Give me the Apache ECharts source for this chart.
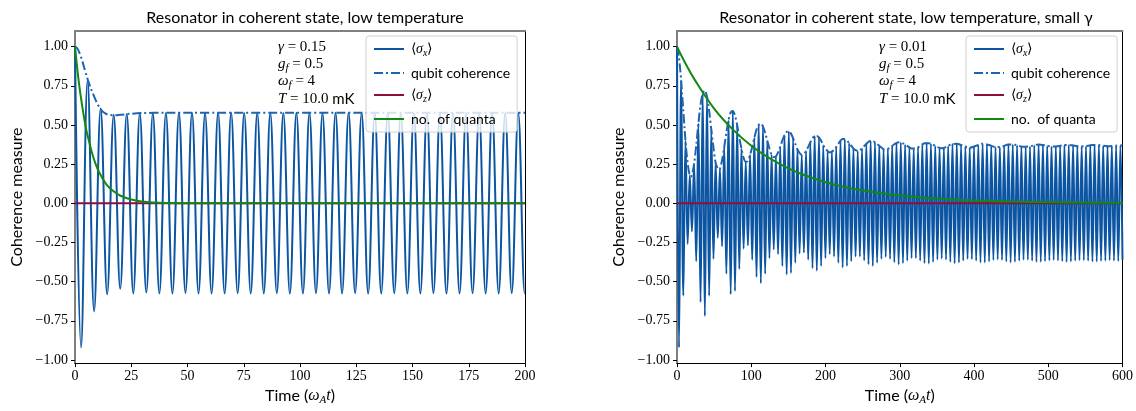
<!DOCTYPE html>
<html><head><meta charset="utf-8">
<script src="https://cdn.jsdelivr.net/npm/echarts@6/dist/echarts.min.js"></script>
<style>html,body{margin:0;padding:0;background:#fff}#c{width:1136px;height:411px}</style>
</head><body><div id="c"></div>
<script>
// ---------- data ----------
const leftTitle = 'Resonator in coherent state, low temperature';
const rightTitle = 'Resonator in coherent state, low temperature, small γ';
const yTicks = [-1, -0.75, -0.5, -0.25, 0, 0.25, 0.5, 0.75, 1];
const leftXRange = [0, 200, 25];
const rightXRange = [0, 600, 100];
const seriesNames = ['⟨σx⟩', 'qubit coherence', '⟨σz⟩', 'no. of quanta'];
const leftParams = [['γ', '', ' = 0.15'], ['g', 'f', ' = 0.5'], ['ω', 'f', ' = 4'], ['T', '', ' = 10.0 ', 'mK']];
const rightParams = [['γ', '', ' = 0.01'], ['g', 'f', ' = 0.5'], ['ω', 'f', ' = 4'], ['T', '', ' = 10.0 ', 'mK']];

// left panel: <sigma_x> extrema [t, value]
const leftSigmaX = [[0,1.0],[2.7,-0.92],[5.6,0.785],[8.5,-0.69],[11.4,0.605],[14.3,-0.58],[17.2,0.565],[20.1,-0.545],[23.0,0.57],[25.9,-0.575],[28.8,0.575],[31.7,-0.57],[34.6,0.575],[37.5,-0.575],[40.4,0.577],[43.3,-0.575],[46.2,0.578],[49.1,-0.572],[52.0,0.578],[54.9,-0.575],[57.8,0.577],[60.7,-0.576],[63.6,0.578],[66.5,-0.575],[69.4,0.578],[72.3,-0.574],[75.2,0.577],[78.1,-0.576],[81.0,0.578],[83.9,-0.575],[86.8,0.578],[89.7,-0.573],[92.6,0.577],[95.5,-0.576],[98.4,0.578],[101.3,-0.575],[104.2,0.578],[107.1,-0.574],[110.0,0.577],[112.9,-0.576],[115.8,0.578],[118.7,-0.575],[121.6,0.578],[124.5,-0.573],[127.4,0.577],[130.3,-0.576],[133.2,0.578],[136.1,-0.575],[139.0,0.578],[141.9,-0.574],[144.8,0.577],[147.7,-0.576],[150.6,0.578],[153.5,-0.575],[156.4,0.578],[159.3,-0.573],[162.2,0.577],[165.1,-0.576],[168.0,0.578],[170.9,-0.575],[173.8,0.578],[176.7,-0.574],[179.6,0.577],[182.5,-0.576],[185.4,0.578],[188.3,-0.575],[191.2,0.578],[194.1,-0.573],[197.0,0.577],[199.9,-0.576],[200,-0.575]];
const leftCoherence = [[0,1.0],[1,0.99],[2,0.96],[3,0.92],[4,0.87],[5,0.82],[6,0.775],[7,0.735],[8,0.70],[9,0.665],[10,0.635],[11,0.61],[12,0.59],[13,0.578],[14,0.57],[15,0.565],[17,0.562],[20,0.565],[25,0.572],[30,0.576],[40,0.578],[200,0.578]];
const leftSigmaZ = [[0,0],[200,0]];
const leftQuanta = [[0,1.0],[1,0.86],[2,0.74],[3,0.64],[4,0.55],[5,0.47],[6,0.41],[8,0.30],[10,0.22],[12,0.165],[14,0.12],[17,0.078],[20,0.05],[25,0.024],[30,0.011],[35,0.005],[40,0.0025],[50,0.0006],[200,0]];

// right panel
const rightSigmaX = [[0,1.0],[2.7,-0.92],[5.6,0.785],[8.5,-0.59],[11.4,0.40],[14.3,-0.26],[17.2,0.18],[20.1,-0.18],[23.0,0.25],[25.9,-0.37],[28.8,0.51],[31.7,-0.63],[34.6,0.70],[37.5,-0.72],[40.4,0.68],[43.3,-0.59],[46.2,0.47],[49.1,-0.355],[52.0,0.26],[54.9,-0.22],[57.8,0.22],[60.7,-0.275],[63.6,0.36],[66.5,-0.45],[69.4,0.53],[72.3,-0.58],[75.2,0.59],[78.1,-0.56],[81.0,0.50],[83.9,-0.42],[86.8,0.35],[89.7,-0.29],[92.6,0.265],[95.5,-0.27],[98.4,0.31],[101.3,-0.36],[104.2,0.42],[107.1,-0.47],[110.0,0.50],[112.9,-0.51],[115.8,0.49],[118.7,-0.45],[121.6,0.40],[124.5,-0.35],[127.4,0.31],[130.3,-0.295],[133.2,0.30],[136.1,-0.325],[139.0,0.36],[141.9,-0.40],[144.8,0.435],[147.7,-0.455],[150.6,0.46],[153.5,-0.445],[156.4,0.415],[159.3,-0.38],[162.2,0.345],[165.1,-0.32],[168.0,0.31],[170.9,-0.315],[173.8,0.335],[176.7,-0.36],[179.6,0.39],[182.5,-0.415],[185.4,0.43],[188.3,-0.43],[191.2,0.42],[194.1,-0.40],[197.0,0.37],[199.9,-0.35],[202.8,0.33],[205.7,-0.325],[208.6,0.33],[211.5,-0.34],[214.4,0.36],[217.3,-0.38],[220.2,0.40],[223.1,-0.41],[226.0,0.41],[228.9,-0.40],[231.8,0.385],[234.7,-0.37],[237.6,0.35],[240.5,-0.34],[243.4,0.335],[246.3,-0.34],[249.2,0.35],[252.1,-0.365],[255.0,0.38],[257.9,-0.39],[260.8,0.40],[263.7,-0.40],[266.6,0.39],[269.5,-0.38],[272.4,0.367],[275.3,-0.355],[278.2,0.345],[281.1,-0.343],[284.0,0.347],[286.9,-0.355],[289.8,0.366],[292.7,-0.377],[295.6,0.386],[298.5,-0.39],[301.4,0.389],[304.3,-0.383],[307.2,0.375],[310.1,-0.366],[313.0,0.357],[315.9,-0.350],[318.8,0.348],[321.7,-0.350],[324.6,0.357],[327.5,-0.366],[330.4,0.375],[333.3,-0.383],[336.2,0.388],[339.1,-0.384],[342.0,0.380],[344.9,-0.374],[347.8,0.366],[350.7,-0.359],[353.6,0.354],[356.5,-0.352],[359.4,0.354],[362.3,-0.359],[365.2,0.366],[368.1,-0.374],[371.0,0.380],[373.9,-0.384],[376.8,0.381],[379.7,-0.378],[382.6,0.373],[385.5,-0.366],[388.4,0.361],[391.3,-0.356],[394.2,0.355],[397.1,-0.357],[400.0,0.361],[402.9,-0.367],[405.8,0.373],[408.7,-0.378],[411.6,0.381],[414.5,-0.378],[417.4,0.376],[420.3,-0.372],[423.2,0.367],[426.1,-0.362],[429.0,0.359],[431.9,-0.358],[434.8,0.359],[437.7,-0.362],[440.6,0.367],[443.5,-0.372],[446.4,0.376],[449.3,-0.378],[452.2,0.376],[455.1,-0.374],[458.0,0.371],[460.9,-0.367],[463.8,0.363],[466.7,-0.361],[469.6,0.360],[472.5,-0.361],[475.4,0.363],[478.3,-0.367],[481.2,0.371],[484.1,-0.374],[487.0,0.376],[489.9,-0.374],[492.8,0.372],[495.7,-0.370],[498.6,0.367],[501.5,-0.365],[504.4,0.363],[507.3,-0.362],[510.2,0.363],[513.1,-0.365],[516.0,0.367],[518.9,-0.370],[521.8,0.372],[524.7,-0.374],[527.6,0.373],[530.5,-0.372],[533.4,0.370],[536.3,-0.367],[539.2,0.365],[542.1,-0.364],[545.0,0.363],[547.9,-0.364],[550.8,0.365],[553.7,-0.367],[556.6,0.370],[559.5,-0.372],[562.4,0.373],[565.3,-0.372],[568.2,0.371],[571.1,-0.369],[574.0,0.368],[576.9,-0.366],[579.8,0.365],[582.7,-0.364],[585.6,0.365],[588.5,-0.366],[591.4,0.368],[594.3,-0.369],[597.2,0.371],[600,-0.36]];
const rightCoherence = [[0,1.0],[1.5,0.975],[2.7,0.93],[4.2,0.86],[5.6,0.785],[7,0.69],[8.5,0.59],[10,0.49],[11.4,0.40],[12.9,0.32],[14.3,0.26],[15.8,0.21],[17.2,0.18],[18.7,0.17],[20.1,0.18],[21.5,0.21],[23.0,0.25],[25.9,0.37],[28.8,0.51],[31.7,0.63],[34.6,0.70],[37.5,0.72],[40.4,0.68],[43.3,0.59],[46.2,0.47],[49.1,0.355],[52.0,0.26],[54.9,0.22],[56.3,0.215],[57.8,0.22],[60.7,0.275],[63.6,0.36],[66.5,0.45],[69.4,0.53],[72.3,0.58],[75.2,0.59],[78.1,0.56],[81.0,0.50],[83.9,0.42],[86.8,0.35],[89.7,0.29],[92.6,0.265],[95.5,0.27],[98.4,0.31],[101.3,0.36],[104.2,0.42],[107.1,0.47],[110.0,0.50],[112.9,0.51],[115.8,0.49],[118.7,0.45],[121.6,0.40],[124.5,0.35],[127.4,0.31],[130.3,0.295],[133.2,0.30],[136.1,0.325],[139.0,0.36],[141.9,0.40],[144.8,0.435],[147.7,0.455],[150.6,0.46],[153.5,0.445],[156.4,0.415],[159.3,0.38],[162.2,0.345],[165.1,0.32],[168.0,0.31],[170.9,0.315],[173.8,0.335],[176.7,0.36],[179.6,0.39],[182.5,0.415],[185.4,0.43],[188.3,0.43],[191.2,0.42],[194.1,0.40],[197.0,0.37],[199.9,0.35],[205.7,0.325],[211.5,0.34],[217.3,0.38],[223.1,0.41],[226.0,0.41],[231.8,0.385],[237.6,0.35],[243.4,0.335],[249.2,0.35],[255.0,0.38],[260.8,0.40],[266.6,0.39],[272.4,0.367],[278.2,0.345],[281.1,0.343],[286.9,0.355],[292.7,0.377],[298.5,0.39],[304.3,0.383],[310.1,0.366],[315.9,0.350],[321.7,0.350],[327.5,0.366],[333.3,0.383],[339.1,0.384],[344.9,0.374],[350.7,0.359],[356.5,0.352],[362.3,0.359],[368.1,0.374],[376.8,0.381],[385.5,0.366],[394.2,0.355],[402.9,0.367],[411.6,0.381],[420.3,0.372],[429.0,0.359],[437.7,0.362],[446.4,0.376],[455.1,0.374],[466.7,0.361],[478.3,0.367],[487.0,0.376],[498.6,0.367],[507.3,0.362],[518.9,0.370],[527.6,0.373],[539.2,0.365],[547.9,0.364],[559.5,0.372],[568.2,0.371],[579.8,0.365],[591.4,0.368],[600,0.37]];
const rightSigmaZ = [[0,0],[600,0]];
const rightQuanta = [[0,1.0],[10,0.905],[25,0.78],[50,0.605],[75,0.472],[100,0.368],[125,0.287],[150,0.223],[175,0.174],[200,0.135],[225,0.105],[250,0.082],[300,0.05],[350,0.03],[400,0.018],[450,0.011],[500,0.007],[550,0.004],[600,0.0025]];

// ---------- styling ----------
const C_SX = '#0b55a3', C_COH = '#1f64b1', C_SZ = '#8c0f3c', C_NQ = '#108a10';
const SANS = 'Lato', SERIF = 'Liberation Serif';
const mathRich = (fs) => ({
  t: {fontFamily: SANS, fontSize: fs, color: '#000', lineHeight: fs + 4},
  r: {fontFamily: SERIF, fontSize: fs, color: '#000', lineHeight: fs + 4},
  i: {fontFamily: SERIF, fontStyle: 'italic', fontSize: fs, color: '#000', lineHeight: fs + 4},
  s: {fontFamily: SERIF, fontStyle: 'italic', fontSize: Math.round(fs * 0.7), color: '#000', lineHeight: fs + 1, verticalAlign: 'bottom'}
});
const legendText = {
  '⟨σx⟩': '{r|⟨}{i|σ}{s|x}{r|⟩}',
  'qubit coherence': '{t|qubit coherence}',
  '⟨σz⟩': '{r|⟨}{i|σ}{s|z}{r|⟩}',
  'no. of quanta': '{t|no.  of quanta}'
};

const chart = echarts.init(document.getElementById('c'), null, {renderer: 'canvas'});

const grids = [
  {left: 75, top: 31, width: 450, height: 335},
  {left: 677, top: 31, width: 448, height: 335}
];
const fmtY = v => (v < 0 ? '\u2212' : '') + Math.abs(v).toFixed(2);

function xAxisMain(gi, range) {
  return {
    type: 'value', gridIndex: gi, min: range[0], max: range[1], interval: range[2],
    axisLine: {onZero: false, lineStyle: {color: '#000', width: 1}},
    axisTick: {length: 4, lineStyle: {color: '#000'}},
    axisLabel: {fontFamily: SERIF, fontSize: 14, color: '#000', margin: 6},
    splitLine: {show: false},
    name: '{t|Time (}{i|ω}{s|A}{i|t}{t|)}', nameLocation: 'middle', nameGap: 22,
    nameTextStyle: {rich: mathRich(16)}
  };
}
function xAxisTop(gi, range) {
  return {type: 'value', gridIndex: gi, position: 'top', min: range[0], max: range[1],
    axisLine: {onZero: false, lineStyle: {color: '#808080', width: 2}},
    axisTick: {show: false}, axisLabel: {show: false}, splitLine: {show: false}};
}
function yAxisMain(gi) {
  return {
    type: 'value', gridIndex: gi, min: -1.02, max: 1.1,
    axisLine: {show: true, onZero: false, lineStyle: {color: '#808080', width: 2}},
    axisTick: {show: true, length: 4, customValues: yTicks, lineStyle: {color: '#000'}},
    axisLabel: {fontFamily: SERIF, fontSize: 14, color: '#000', margin: 7, customValues: yTicks, formatter: fmtY},
    splitLine: {show: false},
    name: 'Coherence measure', nameLocation: 'middle', nameGap: 50,
    nameTextStyle: {fontFamily: SANS, fontSize: 16, color: '#000'}
  };
}
function yAxisRight(gi) {
  return {type: 'value', gridIndex: gi, position: 'right', min: -1.02, max: 1.1,
    axisLine: {show: true, onZero: false, lineStyle: {color: '#000', width: 1}},
    axisTick: {show: false}, axisLabel: {show: false}, splitLine: {show: false}};
}

function mkSeries(xi, yi, sx, coh, sz, nq) {
  return [
    {name: seriesNames[0], type: 'line', xAxisIndex: xi, yAxisIndex: yi, data: sx, symbol: 'none', smooth: 0.4,
      lineStyle: {color: C_SX, width: 2}, itemStyle: {color: C_SX}},
    {name: seriesNames[1], type: 'line', xAxisIndex: xi, yAxisIndex: yi, data: coh, symbol: 'none', smooth: 0.3,
      lineStyle: {color: C_COH, width: 2, type: [9, 3, 2, 3]}, itemStyle: {color: C_COH}},
    {name: seriesNames[2], type: 'line', xAxisIndex: xi, yAxisIndex: yi, data: sz, symbol: 'none',
      lineStyle: {color: C_SZ, width: 2}, itemStyle: {color: C_SZ}},
    {name: seriesNames[3], type: 'line', xAxisIndex: xi, yAxisIndex: yi, data: nq, symbol: 'none', smooth: 0.4,
      lineStyle: {color: C_NQ, width: 2}, itemStyle: {color: C_NQ}}
  ];
}

function mkLegend(left) {
  return {
    data: seriesNames, orient: 'vertical', left: left, top: 36, padding: [6, 7, 6, 7],
    itemWidth: 30, itemHeight: 14, itemGap: 8, selectedMode: false,
    backgroundColor: 'rgba(255,255,255,0.8)', borderColor: '#d0d0d0', borderWidth: 1, borderRadius: 3,
    itemStyle: {opacity: 0},
    formatter: n => legendText[n],
    textStyle: {rich: mathRich(14), padding: [0, 0, 0, 2]}
  };
}

function mkParams(params, x) {
  const ys = [49, 66, 83, 101];
  return params.map((p, k) => {
    let txt = '{i|' + p[0] + '}';
    if (p[1]) txt += '{s|' + p[1] + '}';
    txt += '{r|' + p[2] + '}';
    if (p[3]) txt += '{t|' + p[3] + '}';
    return {type: 'text', left: x, top: ys[k] - 9, z: 100,
      style: {text: txt, rich: mathRich(15), fill: '#000'}};
  });
}

const option = {
  animation: false,
  backgroundColor: '#fff',
  title: [
    {text: leftTitle, left: 300, top: 5, textAlign: 'center', textStyle: {fontFamily: SANS, fontSize: 16, fontWeight: 'normal', color: '#000'}},
    {text: rightTitle, left: 901, top: 5, textAlign: 'center', textStyle: {fontFamily: SANS, fontSize: 16, fontWeight: 'normal', color: '#000'}}
  ],
  grid: grids,
  xAxis: [xAxisMain(0, leftXRange), xAxisMain(1, rightXRange), xAxisTop(0, leftXRange), xAxisTop(1, rightXRange)],
  yAxis: [yAxisMain(0), yAxisMain(1), yAxisRight(0), yAxisRight(1)],
  legend: [mkLegend(366), mkLegend(966)],
  series: [].concat(
    mkSeries(0, 0, leftSigmaX, leftCoherence, leftSigmaZ, leftQuanta),
    mkSeries(1, 1, rightSigmaX, rightCoherence, rightSigmaZ, rightQuanta)
  ),
  graphic: [].concat(mkParams(leftParams, 278), mkParams(rightParams, 879))
};
chart.setOption(option);
</script>
</body></html>
